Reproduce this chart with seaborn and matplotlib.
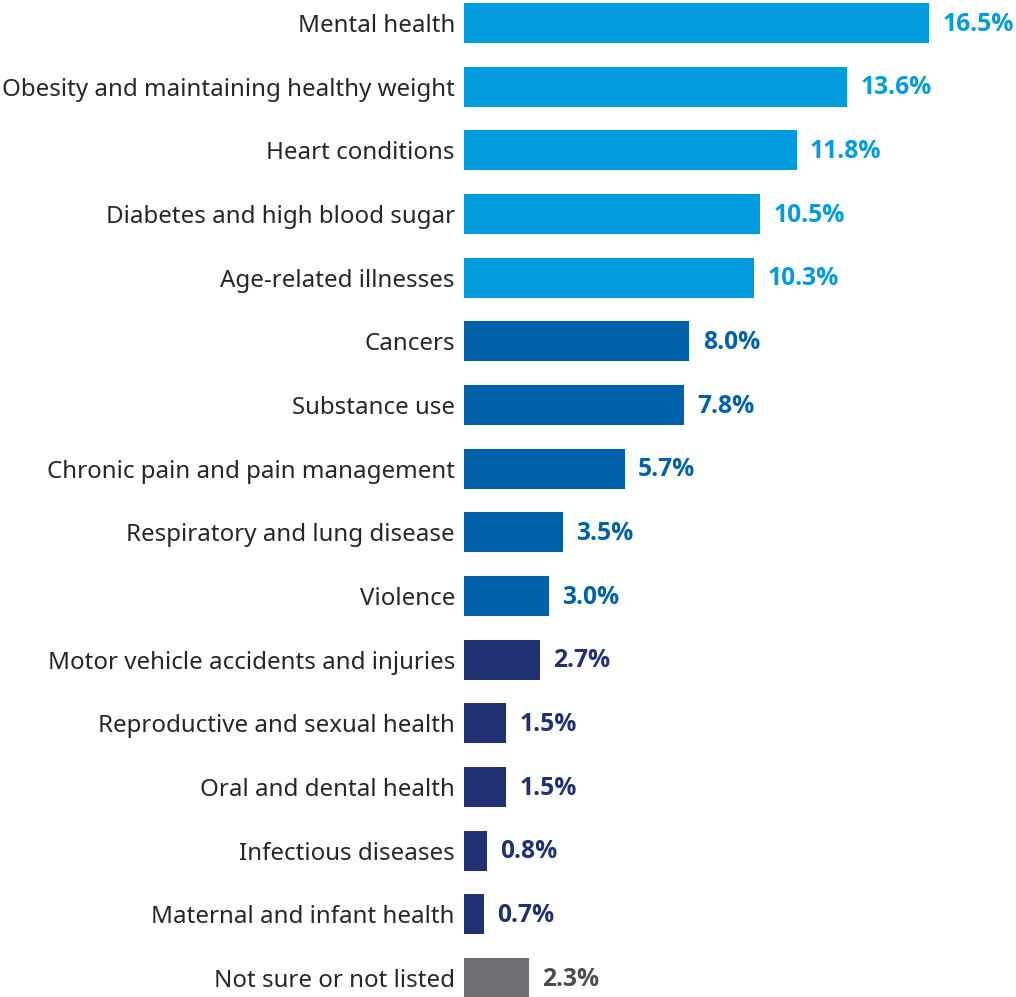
import pandas as pd
import matplotlib
matplotlib.use("Agg")
import matplotlib.pyplot as plt
import seaborn as sns

# chart data
categories = [
    "Mental health",
    "Obesity and maintaining healthy weight",
    "Heart conditions",
    "Diabetes and high blood sugar",
    "Age-related illnesses",
    "Cancers",
    "Substance use",
    "Chronic pain and pain management",
    "Respiratory and lung disease",
    "Violence",
    "Motor vehicle accidents and injuries",
    "Reproductive and sexual health",
    "Oral and dental health",
    "Infectious diseases",
    "Maternal and infant health",
    "Not sure or not listed",
]
values = [16.5, 13.6, 11.8, 10.5, 10.3, 8.0, 7.8, 5.7, 3.5, 3.0, 2.7, 1.5, 1.5, 0.8, 0.7, 2.3]
tiers = ["top"] * 5 + ["mid"] * 5 + ["low"] * 5 + ["other"]

bar_colors = {"top": "#009cde", "mid": "#0061ab", "low": "#1f3170", "other": "#6d6e71"}
label_colors = {"top": "#009cde", "mid": "#0061ab", "low": "#1f3170", "other": "#4d4d4f"}

df = pd.DataFrame({"category": categories, "value": values, "tier": tiers})

sns.set_theme(style="white")
plt.rcParams["font.family"] = ["Noto Sans", "DejaVu Sans"]

fig = plt.figure(figsize=(10.16, 9.97), dpi=100)
ax = fig.add_axes([464 / 1016, 0, 552 / 1016, 1])

sns.barplot(data=df, x="value", y="category", hue="tier", palette=bar_colors,
            dodge=False, width=0.63, legend=False, ax=ax, saturation=1,
            linewidth=0)

ax.set_xlim(0, 552 / 28.18)
ax.set_ylim(15.3, -0.36)
ax.set_xlabel("")
ax.set_ylabel("")
ax.set_xticks([])
ax.tick_params(axis="y", length=0, pad=6.5, labelsize=17.35, labelcolor="#262626")
sns.despine(ax=ax, left=True, bottom=True)

for i, (v, t) in enumerate(zip(values, tiers)):
    ax.annotate(f"{v:.1f}%", (v, i), xytext=(9.5, -1), textcoords="offset points",
                ha="left", va="center", fontsize=17.7, fontweight="bold",
                family=["Open Sans", "DejaVu Sans"],
                color=label_colors[t])

fig.savefig("out.png", dpi=100)
